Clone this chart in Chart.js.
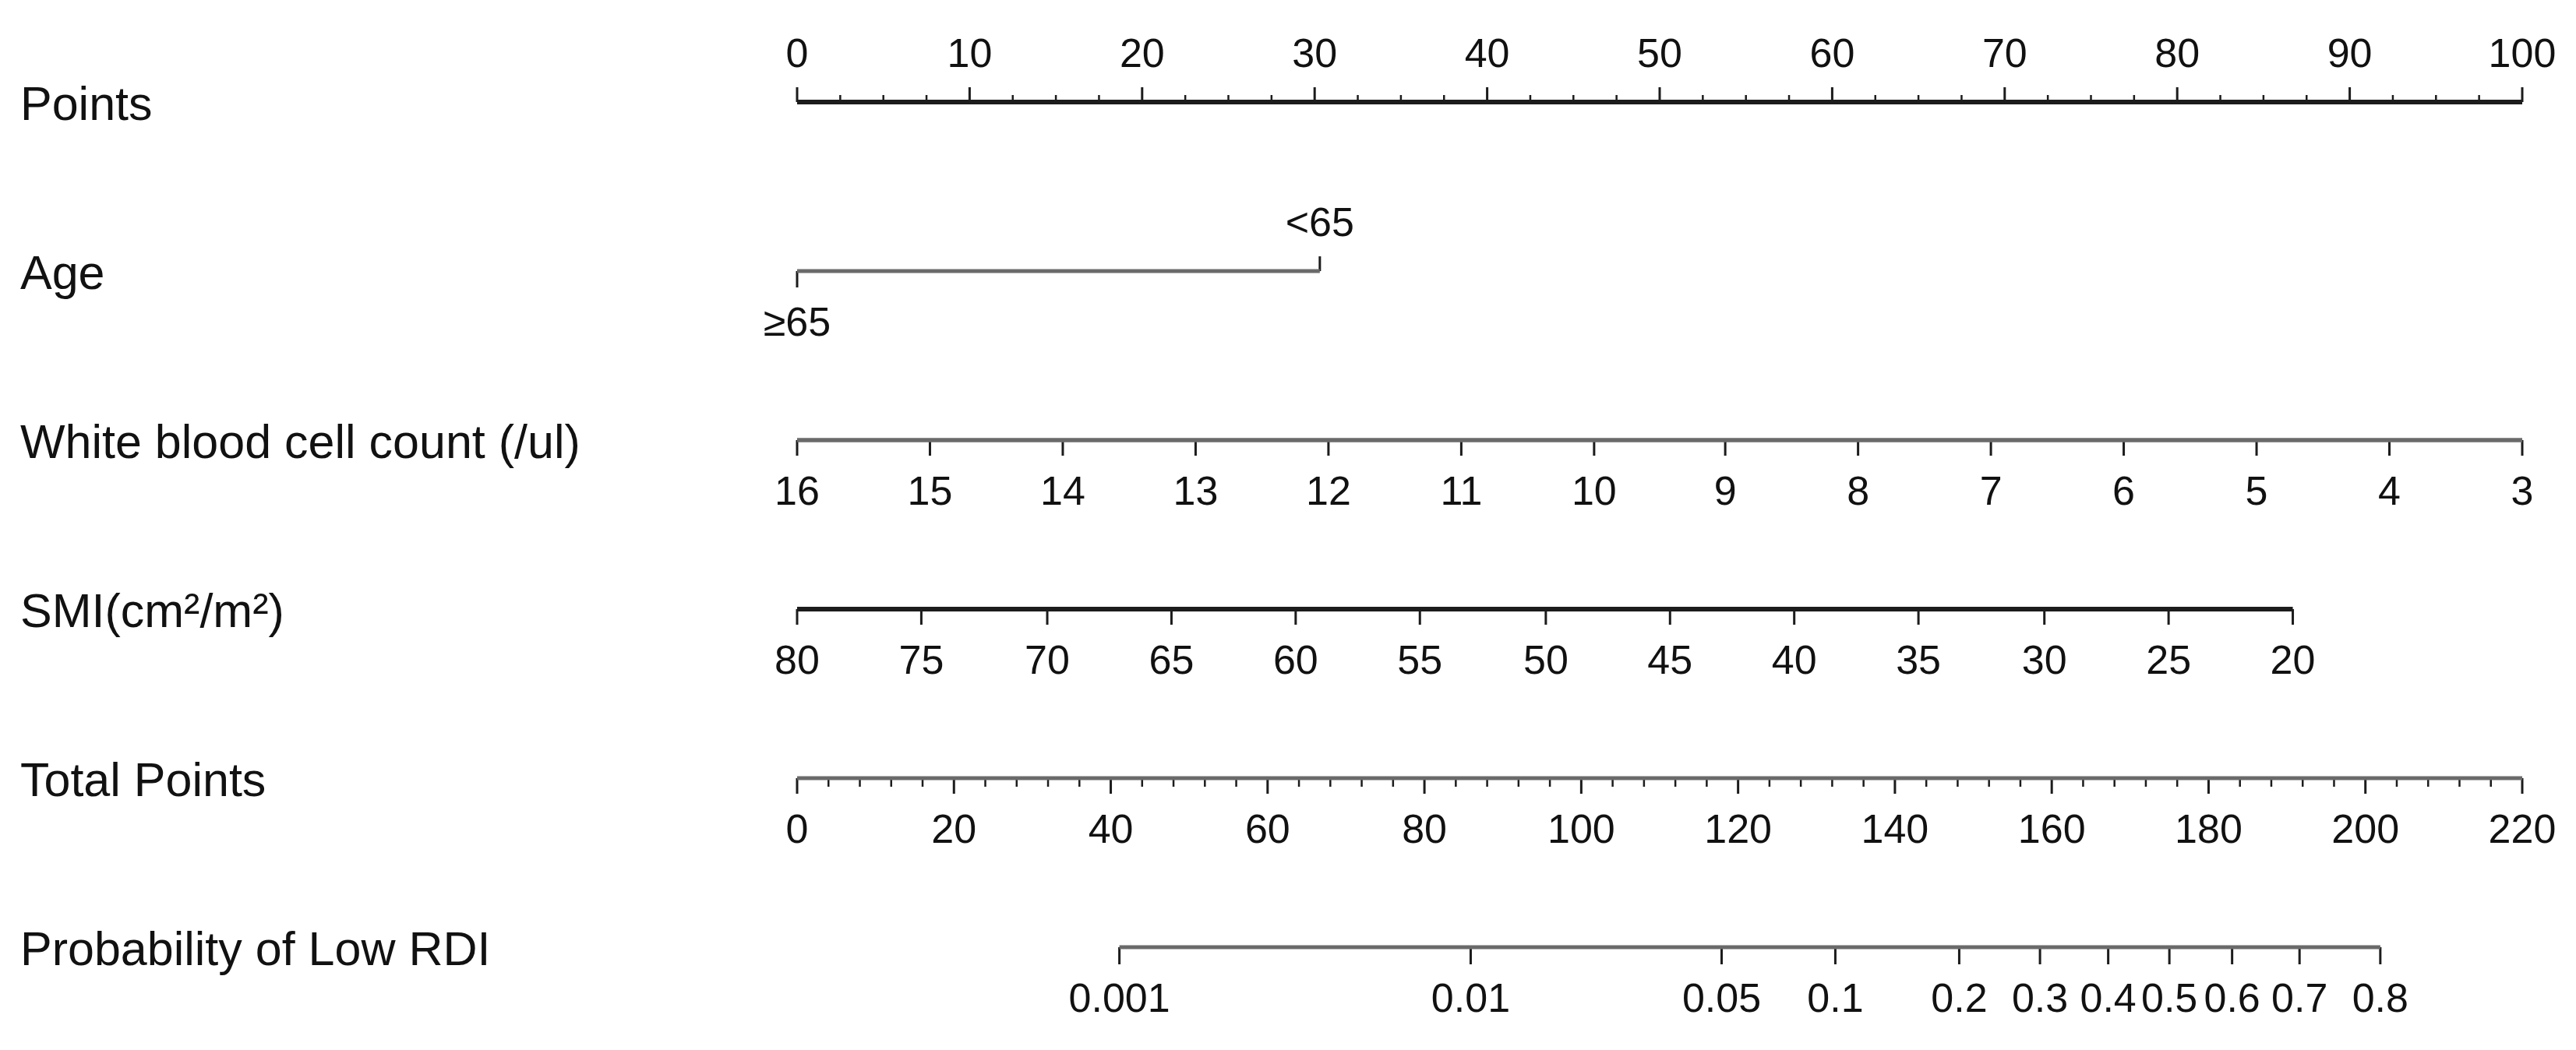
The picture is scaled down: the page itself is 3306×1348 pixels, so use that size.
<!DOCTYPE html>
<html>
<head>
<meta charset="utf-8">
<script src="https://cdn.jsdelivr.net/npm/chart.js@4.4.1/dist/chart.umd.min.js"></script>
<style>
    html, body { margin: 0; padding: 0; background: #fff; }
    canvas { display: block; }
</style>
</head>
<body>
<canvas id="nomogram" width="3306" height="1348"></canvas>
<script>
'use strict';

// Row titles, top to bottom
const rowLabels = [
    'Points',
    'Age',
    'White blood cell count (/ul)',
    'SMI(cm²/m²)',
    'Total Points',
    'Probability of Low RDI'
];

// Points scale (0-100)
const pointTicks = [0, 10, 20, 30, 40, 50, 60, 70, 80, 90, 100];

// Age: category labels and their points
const ageLabels = ['≥65', '<65'];
const agePoints = [0, 30.3];

// White blood cell count: tick labels and their points
const wbcLabels = ['16', '15', '14', '13', '12', '11', '10', '9', '8', '7', '6', '5', '4', '3'];
const wbcPoints = [0, 7.7, 15.4, 23.1, 30.8, 38.5, 46.2, 53.8, 61.5, 69.2, 76.9, 84.6, 92.3, 100];

// SMI: tick labels and their points
const smiLabels = ['80', '75', '70', '65', '60', '55', '50', '45', '40', '35', '30', '25', '20'];
const smiPoints = [0, 7.2, 14.5, 21.7, 28.9, 36.1, 43.4, 50.6, 57.8, 65.0, 72.3, 79.5, 86.7];

// Total points scale (0-220)
const totalTicks = [0, 20, 40, 60, 80, 100, 120, 140, 160, 180, 200, 220];

// Probability: tick labels and their position on the total points scale
const probLabels = ['0.001', '0.01', '0.05', '0.1', '0.2', '0.3', '0.4', '0.5', '0.6', '0.7', '0.8'];
const probTotal = [41.1, 85.9, 117.9, 132.4, 148.2, 158.5, 167.2, 175.0, 183.0, 191.6, 201.9];

const POINT_MINOR_STEP = 2.5;
const TOTAL_MINOR_STEP = 4;

const DARK = '#1c1c1c';
const GREY = '#6a6a6a';
const TEXT = '#111';

const ROW_PX = 217;

/**
 * Tick segments as one line dataset, split with gaps.
 */
function tickSegments(values, row, lengthPx, up) {

    const len = (up ? -1 : 1) * lengthPx / ROW_PX;
    const out = [];

    values.forEach(v => {
        out.push({ x: v, y: row });
        out.push({ x: v, y: row + len });
        out.push({ x: v, y: null });
    });

    return out;

}

function minorValues(max, step, majorStep) {

    const out = [];

    for (let v = step; v < max; v += step) {
        if (Math.abs(v / majorStep - Math.round(v / majorStep)) > 1e-6) {
            out.push(v);
        }
    }

    return out;

}

function axisLine(from, to, row, color, width, axis) {

    return {
        data: [{ x: from, y: row }, { x: to, y: row }],
        borderColor: color,
        borderWidth: width,
        xAxisID: axis
    };

}

function ticks(values, row, lengthPx, up, axis, width) {

    return {
        data: tickSegments(values, row, lengthPx, up),
        borderColor: DARK,
        borderWidth: width || 3,
        xAxisID: axis
    };

}

const datasets = [

    // Points
    axisLine(0, 100, 0, DARK, 6, 'x'),
    ticks(pointTicks, 0, 19, true, 'x'),
    ticks(minorValues(100, POINT_MINOR_STEP, 10), 0, 9, true, 'x', 2.5),

    // Age
    axisLine(agePoints[0], agePoints[1], 1, GREY, 5, 'x'),
    ticks([agePoints[0]], 1, 21, false, 'x'),
    ticks([agePoints[1]], 1, 19, true, 'x'),

    // White blood cell count
    axisLine(wbcPoints[0], wbcPoints[wbcPoints.length - 1], 2, GREY, 5.5, 'x'),
    ticks(wbcPoints, 2, 20, false, 'x'),

    // SMI
    axisLine(smiPoints[0], smiPoints[smiPoints.length - 1], 3, DARK, 6, 'x'),
    ticks(smiPoints, 3, 20, false, 'x'),

    // Total points
    axisLine(0, 220, 4, GREY, 5, 'xt'),
    ticks(totalTicks, 4, 20, false, 'xt'),
    ticks(minorValues(220, TOTAL_MINOR_STEP, 20), 4, 11, false, 'xt', 2.5),

    // Probability
    axisLine(probTotal[0], probTotal[probTotal.length - 1], 5, GREY, 5, 'xt'),
    ticks(probTotal, 5, 22, false, 'xt')

].map(ds => Object.assign({
    showLine: true,
    pointRadius: 0,
    spanGaps: false,
    clip: false,
    borderCapStyle: 'butt'
}, ds));

const LABEL_FONT = 61;
const TICK_FONT = 52;
const LABEL_OFFSET = 64;

const nomogramText = {

    id: 'nomogramText',

    afterDatasetsDraw(chart) {

        const ctx = chart.ctx;
        const xs = chart.scales.x;
        const xt = chart.scales.xt;
        const ys = chart.scales.y;

        const rowY = row => ys.getPixelForValue(row);

        ctx.save();
        ctx.fillStyle = TEXT;

        // row titles
        ctx.font = LABEL_FONT + 'px "Liberation Sans", Arial, sans-serif';
        ctx.textAlign = 'left';
        ctx.textBaseline = 'alphabetic';

        rowLabels.forEach((label, i) => {
            ctx.fillText(label, 26, rowY(i) + LABEL_FONT * 0.37);
        });

        // tick labels
        ctx.font = TICK_FONT + 'px "Liberation Sans", Arial, sans-serif';
        ctx.textAlign = 'center';

        const cap = TICK_FONT * 0.358;

        const put = (text, px, row, above) => {
            const cy = rowY(row) + (above ? -LABEL_OFFSET : LABEL_OFFSET);
            ctx.fillText(text, px, cy + cap);
        };

        pointTicks.forEach(v => put(String(v), xs.getPixelForValue(v), 0, true));

        put(ageLabels[0], xs.getPixelForValue(agePoints[0]), 1, false);
        put(ageLabels[1], xs.getPixelForValue(agePoints[1]), 1, true);

        wbcLabels.forEach((t, i) => put(t, xs.getPixelForValue(wbcPoints[i]), 2, false));

        smiLabels.forEach((t, i) => put(t, xs.getPixelForValue(smiPoints[i]), 3, false));

        totalTicks.forEach(v => put(String(v), xt.getPixelForValue(v), 4, false));

        probLabels.forEach((t, i) => put(t, xt.getPixelForValue(probTotal[i]), 5, false));

        ctx.restore();

    }

};

new Chart(document.getElementById('nomogram'), {

    type: 'scatter',

    data: { datasets },

    options: {

        responsive: false,
        animation: false,
        events: [],

        layout: {
            padding: { left: 1023, right: 69, top: 0, bottom: 0 }
        },

        plugins: {
            legend: { display: false },
            tooltip: { enabled: false }
        },

        scales: {

            x: { type: 'linear', min: 0, max: 100, display: false },

            xt: { type: 'linear', axis: 'x', min: 0, max: 220, display: false },

            y: { type: 'linear', min: -0.604, max: 5.608, reverse: true, display: false }

        }

    },

    plugins: [nomogramText]

});
</script>
</body>
</html>
